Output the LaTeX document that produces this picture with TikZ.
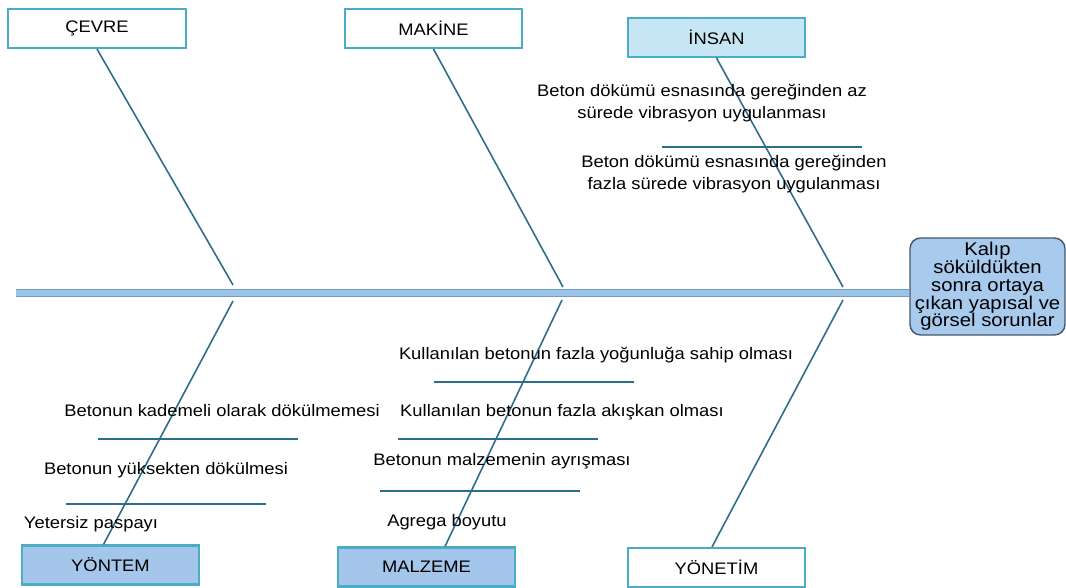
\documentclass[tikz,border=0pt]{standalone}
\usepackage{fontspec}
\setmainfont{Liberation Sans}[FakeStretch=1.1]
\usetikzlibrary{positioning}
\definecolor{cframe}{HTML}{4BACC6}
\definecolor{cbone}{HTML}{2C6D8C}
\definecolor{clight}{HTML}{C6E6F4}
\definecolor{cmid}{HTML}{A3C6EA}
\definecolor{cspine}{HTML}{9DC4E7}
\definecolor{cspineedge}{HTML}{6E9FCC}
\definecolor{chead}{HTML}{A8CAEC}
\definecolor{cheadedge}{HTML}{42566A}
\tikzset{
  every picture/.style={font=\fontsize{9.5}{12.5}\selectfont},
  cat/.style={draw=cframe, fill=#1, line width=1.2pt, minimum width=3.55cm, minimum height=0.78cm, inner sep=0pt},
  cat/.default=white,
  bone/.style={draw=cbone, line width=0.9pt},
  spine/.style={draw=cspineedge, line width=0.4pt, double=cspine, double distance=3.4pt},
  head/.style={draw=cheadedge, fill=chead, line width=0.8pt, rounded corners=6pt, align=center, inner sep=0pt,
    minimum width=3.1cm, minimum height=1.94cm, font=\fontsize{10.5}{10.1}\selectfont},
  cause/.style={align=center, inner sep=1pt},
}
\begin{document}
\begin{tikzpicture}[x=0.02cm, y=-0.02cm]
  \useasboundingbox (0,0) rectangle (1066,588);
  % effect and spine
  \node[head] (head) at (987.5,286.5) {Kalıp\\söküldükten\\sonra ortaya\\çıkan yapısal ve\\görsel sorunlar};
  \coordinate (tail) at (16,293);
  \draw[spine] (tail) -- (tail -| head.west);
  % categories
  \node[cat] (cevre) at (97,28.5) {ÇEVRE};
  \node[cat] (makine) at (433.5,28.5) {MAKİNE};
  \node[cat=clight] (insan) at (716.5,37.5) {İNSAN};
  \node[cat=cmid] (yontem) at (110.5,565) {YÖNTEM};
  \node[cat=cmid] (malzeme) at (426.5,567) {MALZEME};
  \node[cat] (yonetim) at (716.5,567.5) {YÖNETİM};
  % bones
  \coordinate (jc) at (233,285);
  \coordinate (jm) at (563,287);
  \coordinate (ji) at (843,287);
  \coordinate (jy) at (233,301);
  \coordinate (jz) at (562,300);
  \coordinate (jn) at (843,300);
  \draw[bone] (cevre.south) -- (jc);
  \draw[bone] (makine.south) -- (jm);
  \draw[bone] (insan.south) -- (ji);
  \draw[bone] ([xshift=-0.14cm]yontem.north) -- (jy);
  \draw[bone] ([xshift=0.37cm]malzeme.north) -- (jz);
  \draw[bone] ([xshift=-0.09cm]yonetim.north) -- (jn);
  % causes
  \node[cause] (i1) at (702,103) {Beton dökümü esnasında gereğinden az\\sürede vibrasyon uygulanması};
  \node[cause] (i2) at (734,174) {Beton dökümü esnasında gereğinden\\fazla sürede vibrasyon uygulanması};
  \node[cause] (y1) at (222,411) {Betonun kademeli olarak dökülmemesi};
  \node[cause] (y2) at (166,470) {Betonun yüksekten dökülmesi};
  \node[cause] (y3) at (91,524) {Yetersiz paspayı};
  \node[cause] (m1) at (596,355) {Kullanılan betonun fazla yoğunluğa sahip olması};
  \node[cause] (m2) at (562,412) {Kullanılan betonun fazla akışkan olması};
  \node[cause] (m3) at (502,461) {Betonun malzemenin ayrışması};
  \node[cause] (m4) at (447,522) {Agrega boyutu};
  \foreach \xa/\xb/\y in {662/862/147, 98/298/439, 66/266/504, 434/634/382, 398/598/439, 380/580/491}
    \draw[bone] (\xa,\y) -- (\xb,\y);
\end{tikzpicture}
\end{document}
